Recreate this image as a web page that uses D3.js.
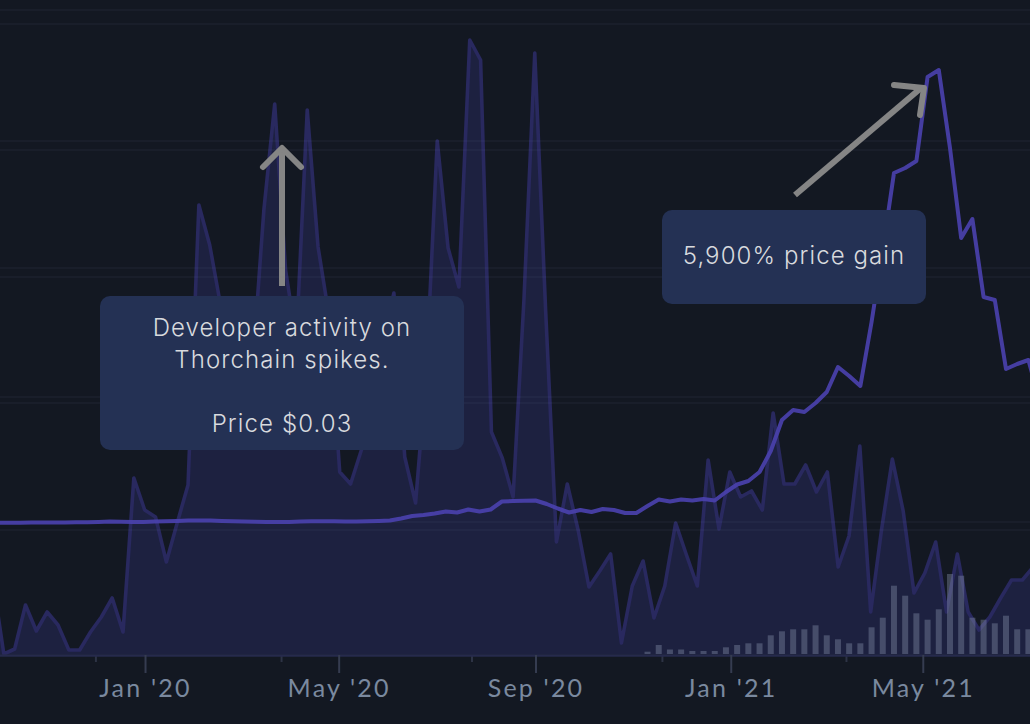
<!DOCTYPE html>
<html><head><meta charset="utf-8">
<style>
html,body{margin:0;padding:0;background:#131822;overflow:hidden}
svg{display:block}
</style>
<script src="https://cdn.jsdelivr.net/npm/d3@7"></script>
</head><body>
<svg id="c" width="1030" height="724"></svg>
<script>
// Unlabelled axes in the source: values are chart units (0 = baseline)
const devActivity=[73,0,5,49,23,42,29,4,4,22,37,56,22,176,144,137,92,131,169,449,409,349,
  330,300,294,444,550,384,314,544,407,339,182,170,204,254,314,361,197,151,284,513,406,367,614,594,222,196,157,354,601,344,
  112,170,124,67,83,100,11,68,93,36,68,131,99,68,194,125,182,157,163,144,241,170,170,189,162,182,87,118,208,42,124,195,143,61,81,112,42,100,42,24,37,56,74,74,87];
const priceIndex=[131.2,131.2,131.3,131.3,131.4,131.4,131.5,131.6,131.7,131.8,132,132.4,132.3,132,132,132.4,132.7,133,133.4,133.5,133.4,133,132.8,132.5,132.2,132,131.9,132,132.4,132.7,132.8,132.7,132.6,132.6,132.7,133,133.5,135.5,138,139,140.5,142.5,141.5,144.5,142.5,144.5,152.5,153,153.2,
  153.5,150,145.5,141.5,144,142,145,144,141,141,148,154.5,152.5,154.5,153.5,155,153.5,162,169.5,173,182,203,234,244,242,251,262,287,278,268,332,404,481,486,493,577,584,506,416,435,357,354,285,290,294,254];
const volumeBars=[2.3,9,4.5,4.5,3,3,3,6.7,9,10.7,10.7,18.7,22.7,24.7,24.7,28.7,18.7,14.7,10.7,10.7,26.7,36.3,68.3,58.3,40.7,34.3,44.7,80,78.3,36.3,34.3,30.7,38.3,24.7,24.7];
const gridLevels=[644,630,513,504,386,377,257,251,132,124];
const majorTicks=[[2020,0],[2020,4],[2020,8],[2021,0],[2021,4]].map(([y,m])=>new Date(Date.UTC(y,m,1)));
const minorTicks=[[2019,11,1],[2020,2,26],[2020,6,23],[2020,10,19],[2021,2,14]].map(([y,m,d])=>new Date(Date.UTC(y,m,d)));
const noteDeveloper=["Developer activity on","Thorchain spikes.","","Price $0.03"];
const notePrice=["5,900% price gain"];

const W=1030,H=724,base=654,DAY=864e5;
const svg=d3.select("#c");
const x=d3.scaleUtc().domain([new Date(Date.UTC(2019,9,2)),new Date(Date.UTC(2021,6,7))]).range([-0.6,W]);
const y=d3.scaleLinear().domain([0,654]).range([base,0]);
const devX=d3.scaleLinear().domain([0,devActivity.length-1]).range([x(new Date(Date.UTC(2019,8,28))),x(new Date(Date.UTC(2021,6,9)))]);
const anchor=Date.UTC(2020,8,1);
const weekDate=k=>new Date(anchor+k*7*DAY);
const priceDates=priceIndex.map((_,i)=>weekDate(i-49));
const barDates=volumeBars.map((_,i)=>weekDate(i+10));

// area + line of developer activity
const devArea=d3.area().x((d,i)=>devX(i)).y0(y(0)).y1(d=>y(d));
const devLine=d3.line().x((d,i)=>devX(i)).y(d=>y(d));
svg.append("path").datum(devActivity).attr("d",devArea).attr("fill","#1d2140");
svg.append("path").datum(devActivity).attr("d",devLine).attr("fill","none").attr("stroke","#29295f").attr("stroke-width",3.6).attr("stroke-linejoin","round");

// grid
svg.append("g").selectAll("line").data(gridLevels).join("line")
  .attr("x1",0).attr("x2",W).attr("y1",d=>y(d)).attr("y2",d=>y(d))
  .attr("stroke","#8a94c0").attr("stroke-opacity",0.05).attr("stroke-width",2);

// bars
svg.append("g").selectAll("rect").data(volumeBars).join("rect")
  .attr("x",(d,i)=>x(barDates[i])-3).attr("width",6)
  .attr("y",d=>y(d)).attr("height",d=>y(0)-y(d))
  .attr("fill","#8f9ab5").attr("fill-opacity",0.36);

// price
const priceLine=d3.line().x((d,i)=>x(priceDates[i])).y(d=>y(d));
svg.append("path").datum(priceIndex).attr("d",priceLine).attr("fill","none")
  .attr("stroke","#4a41ad").attr("stroke-width",4).attr("stroke-linejoin","round").attr("stroke-opacity",0.92);

// axis
const axMinor=d3.axisBottom(x).tickValues(minorTicks).tickSize(7).tickFormat("").tickSizeOuter(0);
const axMajor=d3.axisBottom(x).tickValues(majorTicks).tickSize(18).tickPadding(6).tickSizeOuter(0).tickFormat(d3.utcFormat("%b '%y"));
const gm=svg.append("g").attr("transform","translate(0,655)").call(axMinor);
gm.select(".domain").remove();
gm.selectAll(".tick line").attr("stroke","#2d3345").attr("stroke-width",2);
const ga=svg.append("g").attr("transform","translate(0,655)").call(axMajor);
ga.select(".domain").attr("stroke","#262a4c").attr("stroke-width",2.5);
ga.selectAll(".tick line").attr("stroke","#353c50").attr("stroke-width",2);
ga.selectAll(".tick text").attr("fill","#7a899f").attr("font-size",25).attr("font-family","Lato, sans-serif").attr("letter-spacing","2.2px").attr("y",24).attr("dy","18");

// arrows
const arrow=(pts)=>svg.append("path").attr("d",d3.line()(pts)).attr("fill","none").attr("stroke","#858585").attr("stroke-width",6);
arrow([[282,286],[282,150]]);
arrow([[263,167],[282,148],[301,167]]).attr("stroke-linecap","round").attr("stroke-linejoin","round");
arrow([[795,195],[921,88]]);
arrow([[894,85],[924,88],[920,115]]).attr("stroke-linecap","round").attr("stroke-linejoin","round");

// notes
function note(bx,by,bw,bh,lines,firstBase,lh){
  const g=svg.append("g");
  g.append("rect").attr("x",bx).attr("y",by).attr("width",bw).attr("height",bh).attr("rx",10).attr("fill","#243154");
  g.selectAll("text").data(lines).join("text").attr("x",bx+bw/2).attr("y",(d,i)=>firstBase+i*lh)
    .attr("text-anchor","middle").attr("fill","#d8dade").attr("font-family","Inter, sans-serif").attr("font-size",24).attr("font-weight",300).attr("letter-spacing","1.1px").text(d=>d);
}
note(100,296,364,154,noteDeveloper,336,32);
note(662,210,264,94,notePrice,264,32);
</script>
</body></html>
